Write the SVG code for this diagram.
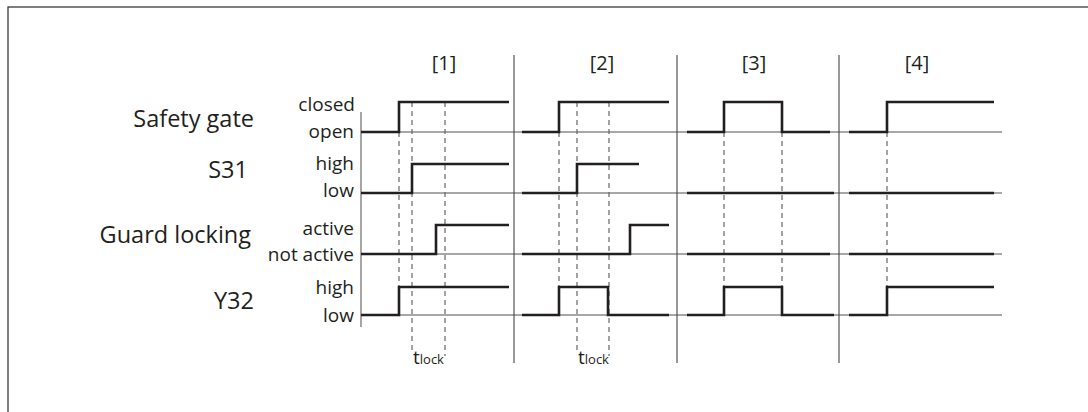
<svg xmlns="http://www.w3.org/2000/svg" width="1088" height="412" viewBox="0 0 1088 412">
<style>
.frame{fill:none;stroke:#3a3a3a;stroke-width:1.3}
.axis{stroke:#777;stroke-width:1.3;fill:none}
.base{stroke:#8a8a8a;stroke-width:1.3;fill:none}
.sep{stroke:#444;stroke-width:1.1;fill:none}
.sig{stroke:#231f20;stroke-width:2.6;fill:none;stroke-linejoin:miter}
.dash{stroke:#666;stroke-width:1.2;stroke-dasharray:5,4;fill:none}
.name{font-family:"Open Sans",sans-serif;font-size:23.5px;fill:#231f20;text-anchor:end}
.lvl{font-family:"Open Sans",sans-serif;font-size:19px;fill:#231f20;text-anchor:end}
.hdr{font-family:"Open Sans",sans-serif;font-size:20px;fill:#231f20;text-anchor:middle}
.t{font-family:"Open Sans",sans-serif;font-size:19px;fill:#231f20}
.ts{font-size:13px}
</style>
<rect class="frame" x="8" y="7" width="1200" height="500"/>
<g id="labels">
<text class="name" x="254" y="127">Safety gate</text>
<text class="name" x="248" y="178">S31</text>
<text class="name" x="251" y="243">Guard locking</text>
<text class="name" x="254" y="309">Y32</text>
<text class="lvl" x="355" y="111">closed</text>
<text class="lvl" x="354" y="138">open</text>
<text class="lvl" x="354" y="170">high</text>
<text class="lvl" x="354" y="197">low</text>
<text class="lvl" x="354" y="235">active</text>
<text class="lvl" x="354" y="261">not active</text>
<text class="lvl" x="354" y="294">high</text>
<text class="lvl" x="354" y="322">low</text>
</g>
<g id="headers">
<text class="hdr" x="444" y="70">[1]</text>
<text class="hdr" x="602" y="70">[2]</text>
<text class="hdr" x="754" y="70">[3]</text>
<text class="hdr" x="917" y="70">[4]</text>
</g>
<g id="grid">
<line class="axis" x1="361" y1="112" x2="361" y2="327"/>
<line class="base" x1="361" y1="132" x2="1002" y2="132"/>
<line class="base" x1="361" y1="193" x2="1002" y2="193"/>
<line class="base" x1="361" y1="254" x2="1002" y2="254"/>
<line class="base" x1="361" y1="315" x2="1002" y2="315"/>
<line class="sep" x1="514" y1="55" x2="514" y2="363"/>
<line class="sep" x1="677" y1="55" x2="677" y2="363"/>
<line class="sep" x1="839" y1="55" x2="839" y2="363"/>
</g>
<g id="connectors">
<line class="dash" x1="399" y1="132" x2="399" y2="287"/>
<line class="dash" x1="412" y1="102" x2="412" y2="350"/>
<line class="dash" x1="445" y1="102" x2="445" y2="356"/>
<line class="dash" x1="559" y1="132" x2="559" y2="287"/>
<line class="dash" x1="577" y1="102" x2="577" y2="350"/>
<line class="dash" x1="609" y1="102" x2="609" y2="356"/>
<line class="dash" x1="724" y1="132" x2="724" y2="287"/>
<line class="dash" x1="782" y1="132" x2="782" y2="287"/>
<line class="dash" x1="887" y1="132" x2="887" y2="287"/>
</g>
<g id="section1">
<polyline class="sig" points="361,132 399,132 399,102 509,102"/>
<polyline class="sig" points="361,193 412,193 412,164 509,164"/>
<polyline class="sig" points="361,254 436,254 436,225 509,225"/>
<polyline class="sig" points="361,315 399,315 399,287 509,287"/>
<text class="t" x="413" y="364">t<tspan class="ts">lock</tspan></text>
</g>
<g id="section2">
<polyline class="sig" points="522,132 559,132 559,102 669,102"/>
<polyline class="sig" points="522,193 577,193 577,164 639,164"/>
<polyline class="sig" points="522,254 630,254 630,225 669,225"/>
<polyline class="sig" points="522,315 559,315 559,287 608,287 608,315 669,315"/>
<text class="t" x="578" y="364">t<tspan class="ts">lock</tspan></text>
</g>
<g id="section3">
<polyline class="sig" points="687,132 724,132 724,102 782,102 782,132 830,132"/>
<polyline class="sig" points="687,193 834,193"/>
<polyline class="sig" points="687,254 830,254"/>
<polyline class="sig" points="687,315 724,315 724,287 782,287 782,315 834,315"/>
</g>
<g id="section4">
<polyline class="sig" points="849,132 887,132 887,102 994,102"/>
<polyline class="sig" points="849,193 994,193"/>
<polyline class="sig" points="849,254 994,254"/>
<polyline class="sig" points="849,315 887,315 887,287 994,287"/>
</g>
</svg>
